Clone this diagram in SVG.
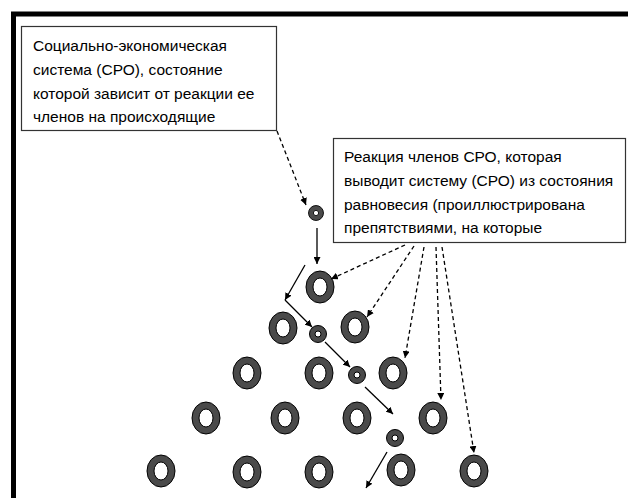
<svg xmlns="http://www.w3.org/2000/svg" width="628" height="498" viewBox="0 0 628 498">
<style>
.box{fill:#fff;stroke:#333;stroke-width:1.2}
.t{font-family:"Liberation Sans",Arial,sans-serif;font-size:15.5px;fill:#000}
.ring{fill:#4a4a4a;fill-rule:evenodd;stroke:#000;stroke-width:1}
.sol{stroke:#000;stroke-width:1.3;fill:none}
.dash{stroke:#000;stroke-width:1.3;fill:none;stroke-dasharray:4 3}
</style>
<defs>
<marker id="ah" viewBox="0 0 10 10" refX="10" refY="5" markerWidth="7" markerHeight="7" markerUnits="userSpaceOnUse" orient="auto">
<path d="M0,0 L10,5 L0,10 z" fill="#000"/>
</marker>
<path id="big" d="M-14,0 a14,16 0 1,0 28,0 a14,16 0 1,0 -28,0 z M-7,0 a7,9 0 1,0 14,0 a7,9 0 1,0 -14,0 z"/>
<path id="small" d="M-8.5,0 a8.5,8.5 0 1,0 17,0 a8.5,8.5 0 1,0 -17,0 z M-3,0 a3,3 0 1,0 6,0 a3,3 0 1,0 -6,0 z"/>
</defs>
<rect x="13.5" y="14" width="700" height="600" fill="#fff" stroke="#000" stroke-width="5"/>

<g id="box1">
<rect class="box" x="21.5" y="26.5" width="255" height="104"/>
<text class="t" x="33" y="51">Социально-экономическая</text>
<text class="t" x="33" y="75">система (СРО), состояние</text>
<text class="t" x="33" y="99">которой зависит от реакции ее</text>
<text class="t" x="33" y="122">членов на происходящие</text>
</g>

<g id="box2">
<rect class="box" x="333.5" y="138.5" width="292" height="104"/>
<text class="t" x="344" y="162">Реакция членов СРО, которая</text>
<text class="t" x="344" y="186">выводит систему (СРО) из состояния</text>
<text class="t" x="344" y="210">равновесия (проиллюстрирована</text>
<text class="t" x="344" y="233">препятствиями, на которые</text>
</g>

<g id="rings">
<g id="s1"><use href="#small" class="ring" transform="translate(316,213) scale(0.88)"/></g>
<g id="r1"><use href="#big" class="ring" transform="translate(320,287)"/></g>
<g id="r2a"><use href="#big" class="ring" transform="translate(283,328)"/></g>
<g id="s2"><use href="#small" class="ring" transform="translate(318,334)"/></g>
<g id="r2b"><use href="#big" class="ring" transform="translate(355,327)"/></g>
<g id="r3a"><use href="#big" class="ring" transform="translate(247,373)"/></g>
<g id="r3b"><use href="#big" class="ring" transform="translate(319,373)"/></g>
<g id="s3"><use href="#small" class="ring" transform="translate(357,375)"/></g>
<g id="r3c"><use href="#big" class="ring" transform="translate(393,373)"/></g>
<g id="r4a"><use href="#big" class="ring" transform="translate(206,418)"/></g>
<g id="r4b"><use href="#big" class="ring" transform="translate(285,418)"/></g>
<g id="r4c"><use href="#big" class="ring" transform="translate(357,418)"/></g>
<g id="r4d"><use href="#big" class="ring" transform="translate(433,418)"/></g>
<g id="s4"><use href="#small" class="ring" transform="translate(395,438)"/></g>
<g id="r5a"><use href="#big" class="ring" transform="translate(161,471)"/></g>
<g id="r5b"><use href="#big" class="ring" transform="translate(247,472)"/></g>
<g id="r5c"><use href="#big" class="ring" transform="translate(319,472)"/></g>
<g id="r5d"><use href="#big" class="ring" transform="translate(401,470)"/></g>
<g id="r5e"><use href="#big" class="ring" transform="translate(474,471)"/></g>
</g>

<g id="connectors">
<line class="dash" x1="277" y1="131" x2="306" y2="205" marker-end="url(#ah)"/>
<line class="sol" x1="317" y1="228" x2="317" y2="264" marker-end="url(#ah)"/>
<line class="sol" x1="305" y1="265" x2="285" y2="300" marker-end="url(#ah)"/>
<line class="sol" x1="285" y1="300" x2="312" y2="327" marker-end="url(#ah)"/>
<line class="sol" x1="325" y1="342" x2="350" y2="367" marker-end="url(#ah)"/>
<line class="sol" x1="365" y1="387" x2="393" y2="414" marker-end="url(#ah)"/>
<line class="sol" x1="387" y1="452" x2="366" y2="488" marker-end="url(#ah)"/>
<line class="dash" x1="405" y1="245" x2="331" y2="279" marker-end="url(#ah)"/>
<line class="dash" x1="414" y1="246" x2="367" y2="317" marker-end="url(#ah)"/>
<line class="dash" x1="424" y1="247" x2="405" y2="358" marker-end="url(#ah)"/>
<line class="dash" x1="436" y1="247" x2="441" y2="400" marker-end="url(#ah)"/>
<line class="dash" x1="442" y1="247" x2="474" y2="453" marker-end="url(#ah)"/>
</g>
</svg>
